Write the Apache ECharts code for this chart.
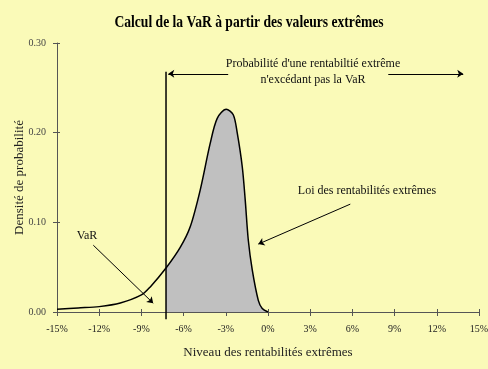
<!DOCTYPE html>
<html>
<head>
<meta charset="utf-8">
<script src="https://cdn.jsdelivr.net/npm/echarts@6/dist/echarts.min.js"></script>
<style>
html,body{margin:0;padding:0;background:#FAFAB8;}
#c{width:488px;height:369px;}
</style>
</head>
<body>
<div id="c"></div>
<script>
const returnsPct = [-15, -13.5, -12, -10.5, -9, -8.37, -7.25, -6.24, -5.53, -4.82, -4.11, -3.61, -2.97, -2.47, -2.19, -1.83, -1.62, -1.40, -1.12, -0.69, -0.41, 0];
const density   = [0.003, 0.0045, 0.006, 0.010, 0.019, 0.028, 0.049, 0.072, 0.095, 0.136, 0.188, 0.216, 0.226, 0.220, 0.200, 0.162, 0.125, 0.080, 0.047, 0.013, 0.004, 0];
const varLevel = -7.25;
const xTickLabels = ['-15%','-12%','-9%','-6%','-3%','0%','3%','6%','9%','12%','15%'];
const yTickLabels = ['0.00','0.10','0.20','0.30'];

const curve = returnsPct.map((x, i) => [x, density[i]]);
const tail = curve.filter(p => p[0] >= varLevel);

const serif = 'Liberation Serif';
const chart = echarts.init(document.getElementById('c'));
const arrowLine = (a, b, arrows) => [
  {coord: a, symbol: arrows[0]},
  {coord: b, symbol: arrows[1]}
];
chart.setOption({
  backgroundColor: '#FAFAB8',
  animation: false,
  grid: {left: 57, right: 9, top: 43, bottom: 57, outerBoundsMode: 'none', containLabel: false},
  xAxis: [{
    type: 'value', min: -15, max: 15, interval: 3,
    name: 'Niveau des rentabilités extrêmes', nameLocation: 'middle', nameGap: 34,
    nameMoveOverlap: false,
    nameTextStyle: {fontFamily: serif, fontSize: 13, color: '#222'},
    axisLine: {onZero: false, lineStyle: {color: '#555', width: 1}},
    axisTick: {show: true, length: 4, lineStyle: {color: '#555'}},
    axisLabel: {fontFamily: serif, fontSize: 10, color: '#222', margin: 12,
      formatter: v => xTickLabels[Math.round((v + 15) / 3)]},
    splitLine: {show: false}
  }, {
    type: 'value', min: -15, max: 15, interval: 3, position: 'bottom',
    axisLine: {show: false, onZero: false},
    axisTick: {show: true, inside: true, length: 3, lineStyle: {color: '#555'}},
    axisLabel: {show: false}, splitLine: {show: false}
  }],
  yAxis: [{
    type: 'value', min: 0, max: 0.3, interval: 0.1,
    name: 'Densité de probabilité', nameLocation: 'middle', nameGap: 31,
    nameMoveOverlap: false,
    nameTextStyle: {fontFamily: serif, fontSize: 13, color: '#222'},
    axisLine: {show: true, onZero: false, lineStyle: {color: '#555', width: 1}},
    axisTick: {show: true, length: 4, lineStyle: {color: '#555'}},
    axisLabel: {fontFamily: serif, fontSize: 10, color: '#444', margin: 11,
      formatter: v => yTickLabels[Math.round(v * 10)]},
    splitLine: {show: false}
  }, {
    type: 'value', min: 0, max: 0.3, interval: 0.1, position: 'left',
    axisLine: {show: false, onZero: false},
    axisTick: {show: true, inside: true, length: 3, lineStyle: {color: '#555'}},
    axisLabel: {show: false}, splitLine: {show: false}
  }],
  series: [{
    type: 'line', data: tail, smooth: 0.3, symbol: 'none',
    lineStyle: {width: 0}, areaStyle: {color: '#C0C0C0', opacity: 1}, z: 1
  }, {
    type: 'line', data: curve, smooth: 0.3, symbol: 'none',
    lineStyle: {color: '#000', width: 1.5}, z: 3
  }, {
    type: 'line', data: [[varLevel, 0.268], [varLevel, -0.008]], symbol: 'none', clip: false,
    lineStyle: {color: '#000', width: 1.5}, z: 4
  }, {
    type: 'line', data: [], symbol: 'none', clip: false,
    markLine: {
      silent: true, symbolSize: 6, label: {show: false},
      lineStyle: {color: '#000', width: 1, type: 'solid'},
      data: [
        arrowLine([-2.83, 0.2656], [-7.09, 0.2656], ['none', 'arrow']),
        arrowLine([8.55, 0.2656], [13.88, 0.2656], ['none', 'arrow']),
        arrowLine([5.85, 0.1203], [-0.69, 0.0757], ['none', 'arrow']),
        arrowLine([-12.42, 0.0745], [-8.16, 0.0098], ['none', 'arrow'])
      ]
    }
  }],
  graphic: [
    {type: 'text', x: 249, y: 23, scaleX: 0.8, style: {x: 0, y: 0, text: 'Calcul de la VaR à partir des valeurs extrêmes', font: 'bold 17px "Liberation Serif"', fill: '#000', align: 'center', verticalAlign: 'middle'}},
    {type: 'text', style: {x: 313, y: 58, text: "Probabilité d'une rentabiltié extrême", font: '12px "Liberation Serif"', fill: '#111', align: 'center'}},
    {type: 'text', style: {x: 313, y: 74, text: "n'excédant pas la VaR", font: '12px "Liberation Serif"', fill: '#111', align: 'center'}},
    {type: 'text', style: {x: 367, y: 185, text: 'Loi des rentabilités extrêmes', font: '12px "Liberation Serif"', fill: '#111', align: 'center'}},
    {type: 'text', style: {x: 87, y: 230, text: 'VaR', font: '12px "Liberation Serif"', fill: '#111', align: 'center'}}
  ]
});
</script>
</body>
</html>
